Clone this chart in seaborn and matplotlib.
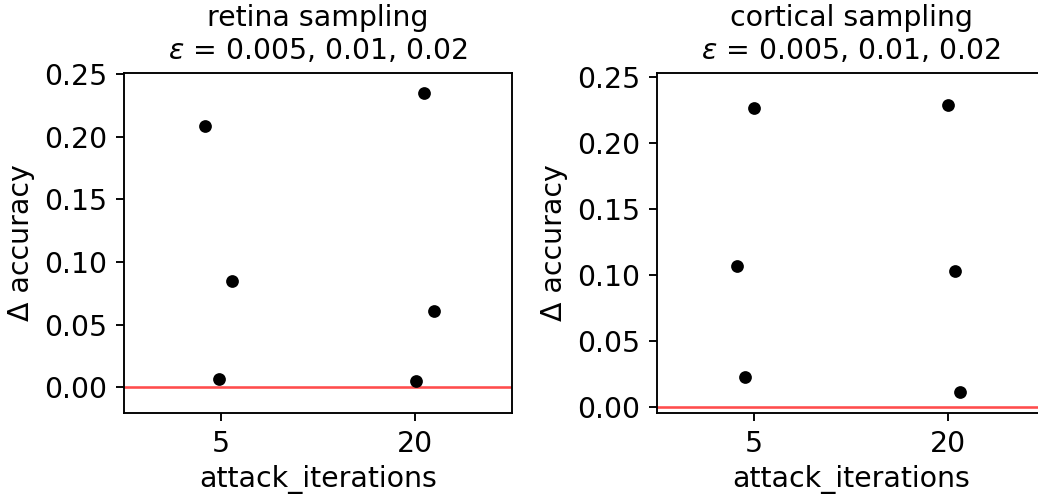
import numpy as np
import pandas as pd
import matplotlib
matplotlib.use("Agg")
import matplotlib.pyplot as plt
import seaborn as sns

# ---- data ----
attack_iterations = [5, 5, 5, 20, 20, 20]
epsilon = [0.02, 0.01, 0.005, 0.02, 0.01, 0.005]
retina_delta = [0.2087, 0.0847, 0.0064, 0.2348, 0.0605, 0.0046]
cortical_delta = [0.2269, 0.1069, 0.0230, 0.2290, 0.1031, 0.0111]
panel_titles = ["retina sampling", "cortical sampling"]
eps_text = r"$\varepsilon$ = 0.005, 0.01, 0.02"

DPI = 170
W, H = 1038, 494
fig = plt.figure(figsize=(W / DPI, H / DPI), dpi=DPI)

ax_h = 340.6
bottom = (H - 413.3) / H
ax1 = fig.add_axes([124 / W, bottom, 388 / W, ax_h / H])
ax2 = fig.add_axes([657 / W, bottom, 388 / W, ax_h / H])

np.random.seed(7)
for ax, vals, title, ylim in [
    (ax1, retina_delta, panel_titles[0], (-0.0208, 0.2512)),
    (ax2, cortical_delta, panel_titles[1], (-0.0048, 0.2535)),
]:
    df = pd.DataFrame({"attack_iterations": attack_iterations,
                       "epsilon": epsilon,
                       "delta": vals})
    sns.stripplot(data=df, x="attack_iterations", y="delta", color="black",
                  jitter=True, size=5.4, ax=ax)
    ax.axhline(0, color="red", alpha=0.7, lw=1.1)
    ax.set_xlim(-0.5, 1.5)
    ax.set_ylim(*ylim)
    ax.set_yticks([0.0, 0.05, 0.10, 0.15, 0.20, 0.25])
    ax.set_yticklabels(["0.00", "0.05", "0.10", "0.15", "0.20", "0.25"])
    ax.set_ylabel("Δ accuracy", fontsize=12)
    ax.set_xlabel("attack_iterations", fontsize=12, labelpad=3.0)
    ax.set_title(title + "\n" + eps_text, fontsize=12)
    ax.tick_params(labelsize=12)

fig.savefig("out.png", dpi=DPI)
